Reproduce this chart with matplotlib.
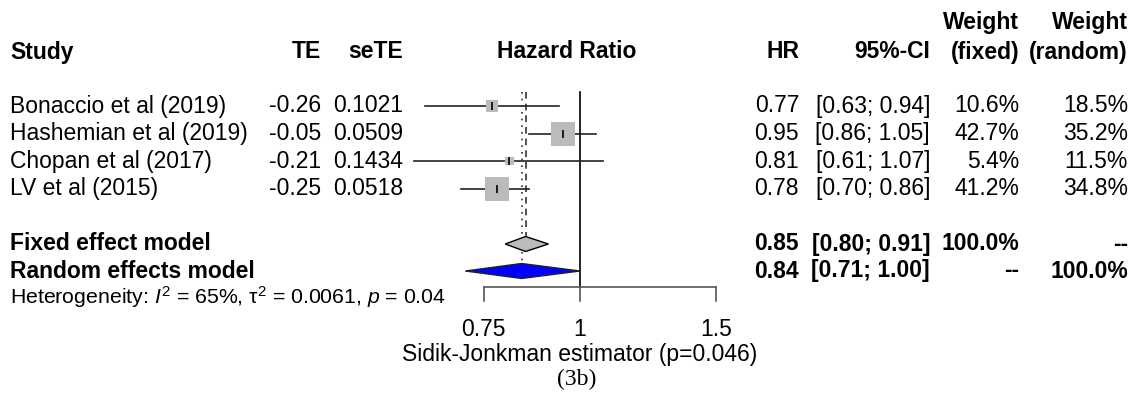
import numpy as np
import matplotlib
matplotlib.use('Agg')
import matplotlib.pyplot as plt
from matplotlib.patches import Polygon

plt.rcParams['font.family'] = ['Liberation Sans', 'DejaVu Sans']
plt.rcParams['mathtext.fontset'] = 'custom'
plt.rcParams['mathtext.rm'] = 'Liberation Sans'
plt.rcParams['mathtext.it'] = 'Liberation Sans:italic'

studies = ['Bonaccio et al (2019)', 'Hashemian et al (2019)',
           'Chopan et al (2017)', 'LV et al (2015)']
te = [-0.26, -0.05, -0.21, -0.25]
sete = [0.1021, 0.0509, 0.1434, 0.0518]
hr = [0.77, 0.95, 0.81, 0.78]
ci_lo = [0.63, 0.86, 0.61, 0.70]
ci_hi = [0.94, 1.05, 1.07, 0.86]
w_fixed = [10.6, 42.7, 5.4, 41.2]
w_random = [18.5, 35.2, 11.5, 34.8]

fixed_est, fixed_lo, fixed_hi = 0.85, 0.80, 0.91
random_est, random_lo, random_hi = 0.84, 0.71, 1.00

x_ticks = [0.75, 1, 1.5]
x_ticklabels = ['0.75', '1', '1.5']
het_text = r'Heterogeneity: $I^2$ = 65%, τ$^2$ = 0.0061, $p$ = 0.04'
xlabel = 'Sidik-Jonkman estimator (p=0.046)'

W, H = 1137, 398
fig = plt.figure(figsize=(W / 100, H / 100), dpi=100)

# text layer in pixel coords
ax_t = fig.add_axes([0, 0, 1, 1])
ax_t.set_xlim(0, W)
ax_t.set_ylim(H, 0)
ax_t.axis('off')

# forest layer: log x, 1 at pixel 580, ~335 px per log unit
x_one, px_per_log = 580, 335
ax_f = fig.add_axes([0, 0, 1, 1])
ax_f.set_xscale('log')
ax_f.set_xlim(np.exp(-x_one / px_per_log), np.exp((W - x_one) / px_per_log))
ax_f.set_ylim(H, 0)
ax_f.axis('off')
ax_f.patch.set_alpha(0)

fs = 16.5
row_y = 106 + 27.6 * np.arange(len(studies))
y_hdr = 52
y_fixed, y_random, y_het = 244, 271, 297

col_te, col_se, col_hr, col_ci, col_wf, col_wr = 321, 403, 799, 930, 1019, 1128

# header
ax_t.text(10, y_hdr, 'Study', fontsize=fs, fontweight='bold', va='center')
ax_t.text(col_te, y_hdr, 'TE', fontsize=fs, fontweight='bold', va='center', ha='right')
ax_t.text(col_se, y_hdr, 'seTE', fontsize=fs, fontweight='bold', va='center', ha='right')
ax_t.text(567, y_hdr, 'Hazard Ratio', fontsize=fs, fontweight='bold', va='center', ha='center')
ax_t.text(col_hr, y_hdr, 'HR', fontsize=fs, fontweight='bold', va='center', ha='right')
ax_t.text(col_ci, y_hdr, '95%-CI', fontsize=fs, fontweight='bold', va='center', ha='right')
ax_t.text(col_wf, 23, 'Weight', fontsize=fs, fontweight='bold', va='center', ha='right')
ax_t.text(col_wf, y_hdr, '(fixed)', fontsize=fs, fontweight='bold', va='center', ha='right')
ax_t.text(col_wr, 23, 'Weight', fontsize=fs, fontweight='bold', va='center', ha='right')
ax_t.text(col_wr, y_hdr, '(random)', fontsize=fs, fontweight='bold', va='center', ha='right')

# study rows
for i, y in enumerate(row_y):
    ax_t.text(10, y, studies[i], fontsize=fs, va='center')
    ax_t.text(col_te, y, f'{te[i]:.2f}', fontsize=fs, va='center', ha='right')
    ax_t.text(col_se, y, f'{sete[i]:.4f}', fontsize=fs, va='center', ha='right')
    ax_t.text(col_hr, y, f'{hr[i]:.2f}', fontsize=fs, va='center', ha='right')
    ax_t.text(col_ci, y, f'[{ci_lo[i]:.2f}; {ci_hi[i]:.2f}]', fontsize=fs, va='center', ha='right')
    ax_t.text(col_wf, y, f'{w_fixed[i]:.1f}%', fontsize=fs, va='center', ha='right')
    ax_t.text(col_wr, y, f'{w_random[i]:.1f}%', fontsize=fs, va='center', ha='right')

    ax_f.plot([ci_lo[i], ci_hi[i]], [y, y], color='#222222', lw=1.2, zorder=2)
    side_pt = 3.67 * np.sqrt(w_fixed[i]) * 0.72
    ax_f.scatter([hr[i]], [y], marker='s', s=side_pt ** 2, color='#bbbbbb',
                 edgecolors='none', zorder=3)
    ax_f.scatter([hr[i]], [y], marker='|', s=30, color='black', linewidths=1.2, zorder=4)

# summary rows
ax_t.text(10, y_fixed, 'Fixed effect model', fontsize=fs, fontweight='bold', va='center')
ax_t.text(col_hr, y_fixed, f'{fixed_est:.2f}', fontsize=fs, fontweight='bold', va='center', ha='right')
ax_t.text(col_ci, y_fixed, f'[{fixed_lo:.2f}; {fixed_hi:.2f}]', fontsize=fs, fontweight='bold', va='center', ha='right')
ax_t.text(col_wf, y_fixed, '100.0%', fontsize=fs, fontweight='bold', va='center', ha='right')
ax_t.text(col_wr, y_fixed, '--', fontsize=fs, fontweight='bold', va='center', ha='right')

ax_t.text(10, y_random, 'Random effects model', fontsize=fs, fontweight='bold', va='center')
ax_t.text(col_hr, y_random, f'{random_est:.2f}', fontsize=fs, fontweight='bold', va='center', ha='right')
ax_t.text(col_ci, y_random, f'[{random_lo:.2f}; {random_hi:.2f}]', fontsize=fs, fontweight='bold', va='center', ha='right')
ax_t.text(col_wf, y_random, '--', fontsize=fs, fontweight='bold', va='center', ha='right')
ax_t.text(col_wr, y_random, '100.0%', fontsize=fs, fontweight='bold', va='center', ha='right')

ax_t.text(10, y_het, het_text, fontsize=15.3, va='center')

dh = 7.5
ax_f.add_patch(Polygon([(fixed_lo, y_fixed), (fixed_est, y_fixed - dh),
                        (fixed_hi, y_fixed), (fixed_est, y_fixed + dh)],
                       closed=True, facecolor='#bbbbbb', edgecolor='black', lw=1, zorder=3))
ax_f.add_patch(Polygon([(random_lo, y_random), (random_est, y_random - dh),
                        (random_hi, y_random), (random_est, y_random + dh)],
                       closed=True, facecolor='#0000ff', edgecolor='#222222', lw=1, zorder=3))

# reference lines
y_top, y_axis = 92, 287
ax_f.plot([1, 1], [y_top, y_axis], color='black', lw=1.2, zorder=1)
ax_f.plot([fixed_est, fixed_est], [y_top, y_fixed - dh], color='#333333', lw=1.2,
          ls=(0, (4, 3)), zorder=1)
ax_f.plot([random_est, random_est], [y_top, y_random - dh], color='#333333', lw=1.2,
          ls=(0, (1, 3)), zorder=1)

# x axis
ax_f.plot([x_ticks[0], x_ticks[-1]], [y_axis, y_axis], color='#555555', lw=1.2)
for xt, lab in zip(x_ticks, x_ticklabels):
    ax_f.plot([xt, xt], [y_axis, 301], color='#555555', lw=1.2)
    ax_f.text(xt, 329, lab, fontsize=fs, ha='center', va='center')
ax_f.text(1, 355, xlabel, fontsize=fs, ha='center', va='center')

ax_t.text(577, 379, '(3b)', fontsize=17, ha='center', va='center',
          family=['Liberation Serif', 'DejaVu Serif'])

fig.savefig('out.png', dpi=100)
